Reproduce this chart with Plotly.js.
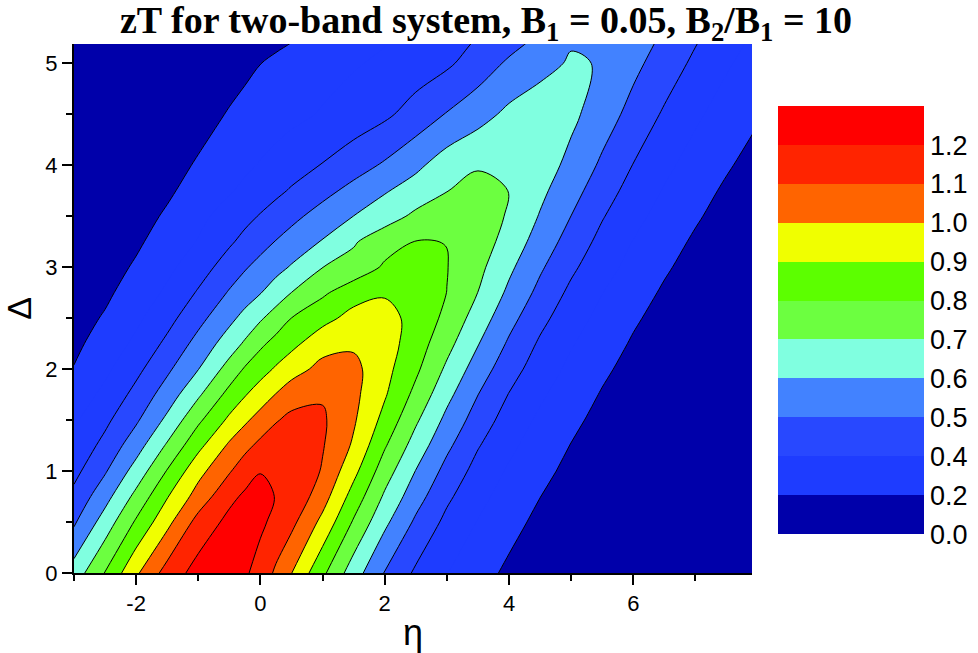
<!DOCTYPE html>
<html><head><meta charset="utf-8">
<script src="https://cdn.plot.ly/plotly-3.0.1.min.js"></script>
<style>html,body{margin:0;padding:0;background:#fff}</style>
</head><body>
<div id="chart" style="width:978px;height:653px"></div>
<script>
// reduced chemical potential (x) and band gap (y) grid
const eta = [-3,-2.5,-2,-1.5,-1,-0.5,-0.25,0,0.25,0.5,1,1.5,2,2.5,3,3.5,4,4.5,5,5.5,6,6.5,7,7.5,8];
const delta = [0,0.5,0.75,1,1.25,1.5,1.75,2,2.25,2.5,2.75,3,3.25,3.5,3.75,4,4.5,5,5.5];
// zT values, one row per delta value
const zT_d000 = [0.645,0.804,0.984,1.14,1.24,1.245,1.216,1.157,1.084,1.002,0.821,0.647,0.495,0.384,0.303,0.235,0.182,0.145,0.12,0.10,0.085,0.073,0.063,0.055,0.048];
const zT_d050 = [0.485,0.645,0.813,0.972,1.135,1.227,1.234,1.22,1.171,1.126,0.973,0.789,0.622,0.483,0.375,0.296,0.23,0.178,0.143,0.118,0.099,0.084,0.072,0.062,0.054];
const zT_d075 = [0.426,0.564,0.728,0.894,1.041,1.175,1.216,1.225,1.197,1.182,1.042,0.859,0.685,0.541,0.419,0.329,0.258,0.201,0.159,0.128,0.107,0.09,0.077,0.067,0.058];
const zT_d100 = [0.372,0.49,0.64,0.806,0.968,1.091,1.155,1.197,1.199,1.195,1.091,0.928,0.747,0.597,0.468,0.365,0.288,0.226,0.176,0.141,0.117,0.098,0.083,0.071,0.062];
const zT_d125 = [0.328,0.429,0.557,0.713,0.873,1.016,1.072,1.125,1.153,1.16,1.107,0.986,0.81,0.657,0.521,0.407,0.322,0.252,0.197,0.156,0.127,0.106,0.089,0.076,0.066];
const zT_d150 = [0.285,0.378,0.486,0.622,0.781,0.92,0.983,1.039,1.093,1.123,1.114,1.012,0.869,0.715,0.574,0.454,0.357,0.282,0.221,0.172,0.139,0.116,0.097,0.082,0.071];
const zT_d175 = [0.244,0.324,0.43,0.546,0.685,0.832,0.893,0.949,1.004,1.06,1.09,1.025,0.91,0.773,0.628,0.501,0.396,0.315,0.247,0.193,0.153,0.125,0.104,0.088,0.075];
const zT_d200 = [0.204,0.28,0.374,0.482,0.598,0.739,0.81,0.862,0.912,0.956,1.033,1.027,0.931,0.819,0.682,0.552,0.441,0.351,0.278,0.217,0.169,0.137,0.114,0.095,0.081];
const zT_d225 = [0.18,0.24,0.321,0.422,0.533,0.649,0.714,0.781,0.832,0.875,0.959,0.985,0.945,0.85,0.732,0.605,0.486,0.386,0.308,0.243,0.19,0.151,0.124,0.103,0.087];
const zT_d250 = [0.162,0.209,0.28,0.367,0.47,0.575,0.63,0.688,0.744,0.801,0.87,0.932,0.936,0.867,0.776,0.654,0.533,0.428,0.342,0.272,0.213,0.167,0.135,0.112,0.094];
const zT_d275 = [0.146,0.183,0.241,0.317,0.41,0.509,0.553,0.596,0.648,0.701,0.783,0.86,0.89,0.87,0.799,0.699,0.58,0.473,0.378,0.302,0.239,0.188,0.149,0.122,0.102];
const zT_d300 = [0.133,0.163,0.211,0.277,0.355,0.446,0.491,0.531,0.569,0.609,0.699,0.735,0.814,0.858,0.803,0.727,0.62,0.514,0.419,0.337,0.269,0.212,0.166,0.134,0.111];
const zT_d325 = [0.121,0.147,0.186,0.239,0.306,0.386,0.427,0.466,0.504,0.538,0.607,0.69,0.758,0.803,0.799,0.752,0.661,0.556,0.46,0.371,0.297,0.236,0.187,0.148,0.122];
const zT_d350 = [0.11,0.133,0.165,0.212,0.275,0.34,0.373,0.407,0.441,0.475,0.539,0.601,0.657,0.72,0.762,0.753,0.69,0.593,0.499,0.407,0.329,0.265,0.211,0.165,0.133];
const zT_d375 = [0.101,0.121,0.147,0.186,0.236,0.291,0.32,0.349,0.379,0.41,0.47,0.53,0.591,0.645,0.698,0.725,0.699,0.623,0.536,0.446,0.362,0.293,0.234,0.186,0.147];
const zT_d400 = [0.093,0.11,0.133,0.165,0.21,0.259,0.283,0.307,0.331,0.356,0.405,0.458,0.513,0.578,0.651,0.693,0.693,0.652,0.571,0.483,0.397,0.322,0.262,0.21,0.165];
const zT_d450 = [0.079,0.093,0.11,0.132,0.163,0.207,0.226,0.244,0.26,0.276,0.308,0.342,0.382,0.44,0.506,0.562,0.623,0.655,0.623,0.547,0.468,0.387,0.316,0.26,0.21];
const zT_d500 = [0.067,0.077,0.09,0.107,0.128,0.16,0.18,0.199,0.217,0.234,0.264,0.291,0.318,0.348,0.384,0.446,0.516,0.568,0.611,0.594,0.524,0.455,0.379,0.311,0.258];
const zT_d550 = [0.049,0.056,0.064,0.075,0.087,0.103,0.113,0.124,0.137,0.151,0.19,0.229,0.262,0.295,0.328,0.359,0.392,0.462,0.565,0.58,0.56,0.514,0.445,0.373,0.31];
const zT = [zT_d000,zT_d050,zT_d075,zT_d100,zT_d125,zT_d150,zT_d175,zT_d200,zT_d225,zT_d250,zT_d275,
            zT_d300,zT_d325,zT_d350,zT_d375,zT_d400,zT_d450,zT_d500,zT_d550];

// colour-bar labels (contour levels) and band colours
const levelLabels = ['0.0','0.2','0.4','0.5','0.6','0.7','0.8','0.9','1.0','1.1','1.2'];
const bandColors = ['#0000AA','#1E3CFF','#2848FF','#4282FF','#80FFE0','#6CFF40','#5CFF00','#F0FF00','#FF6400','#FF2400','#FF0000'];
const xTickVals = [-2,0,2,4,6];
const xTickText = ['-2','0','2','4','6'];

// contours are drawn on zT*10 so that level steps are whole numbers (2,3,...,13)
const zT10 = zT.map(r => r.map(v => v*10));
// fill colourscale: one band per 0.1 step above 0.2 (0.2-0.3 and 0.3-0.4 share one colour)
const fillBandColors = [bandColors[0], bandColors[1]].concat(bandColors.slice(1));
const fillScale = [];
fillBandColors.forEach((c,j,a)=>{ fillScale.push([j/a.length,c]); fillScale.push([(j+1)/a.length,c]); });
// colour-bar scale: 11 equal bands
const cbScale = [];
bandColors.forEach((c,j,a)=>{ cbScale.push([j/a.length,c]); cbScale.push([(j+1)/a.length,c]); });

const plotL = 74.3, plotR = 752.3, plotT = 44, plotB = 572.7;
const W = 978, H = 653;
const tickFont = {family:'Liberation Sans, Arial, sans-serif', size:22, color:'#000'};
const SM = 1;

const fillTrace = {
  type:'contour', x:eta, y:delta, z:zT10, autocontour:false, showscale:false,
  contours:{start:2, end:13, size:1, coloring:'fill', showlines:false},
  line:{width:0, smoothing:SM}, colorscale:fillScale, hoverinfo:'skip'
};
const lineTraceA = {
  type:'contour', x:eta, y:delta, z:zT10, autocontour:false, showscale:false,
  contours:{start:4, end:12, size:1, coloring:'none', showlines:true},
  line:{color:'#000', width:1, smoothing:SM}, hoverinfo:'skip'
};
const lineTraceB = {
  type:'contour', x:eta, y:delta, z:zT10, autocontour:false, showscale:false,
  contours:{start:2, end:2.5, size:1, coloring:'none', showlines:true},
  line:{color:'#000', width:1, smoothing:SM}, hoverinfo:'skip'
};
const cbTrace = {
  type:'scatter', mode:'markers', x:[-50], y:[-50], hoverinfo:'skip', showlegend:false,
  marker:{size:1, color:[0], cmin:0, cmax:levelLabels.length, colorscale:cbScale, showscale:true,
    colorbar:{
      x:(778-plotL)/(plotR-plotL), xanchor:'left', xpad:0, ypad:0,
      y:(plotB-320)/(plotB-plotT), yanchor:'middle',
      thickness:146, thicknessmode:'pixels', len:428, lenmode:'pixels',
      outlinewidth:0, ticks:'', tickmode:'array',
      tickvals:levelLabels.map((_,i)=>i), ticktext:levelLabels,
      tickfont:{family:'Liberation Sans, Arial, sans-serif', size:27, color:'#000'}
    }}
};

const layout = {
  width:W, height:H,
  margin:{l:plotL, r:W-plotR, t:plotT, b:H-plotB, pad:0},
  paper_bgcolor:'#fff', plot_bgcolor:'#fff',
  showlegend:false,
  title:{
    text:'<b>zT for two-band system, B<sub>1</sub> = 0.05, B<sub>2</sub>/B<sub>1</sub> = 10</b>',
    font:{family:'Liberation Serif, Times New Roman, serif', size:38, color:'#000'},
    x:486/W, xanchor:'center', y:1-6/H, yanchor:'top', xref:'container', yref:'container'
  },
  xaxis:{
    range:[-3,7.91], tickmode:'array', tickvals:xTickVals, ticktext:xTickText,
    ticks:'outside', ticklen:10, tickwidth:2, tickcolor:'#000',
    minor:{ticks:'outside', ticklen:6, tickwidth:2, tickcolor:'#000', tickmode:'linear', tick0:0, dtick:1, showgrid:false},
    showline:true, linecolor:'#000', linewidth:2, mirror:false,
    showgrid:false, zeroline:false, tickfont:tickFont,
    title:{text:'η', font:{family:'Liberation Sans, Arial, sans-serif', size:36, color:'#000'}, standoff:4}
  },
  yaxis:{
    range:[0,5.19], tickmode:'linear', tick0:0, dtick:1,
    ticks:'outside', ticklen:10, tickwidth:2, tickcolor:'#000',
    minor:{ticks:'outside', ticklen:6, tickwidth:2, tickcolor:'#000', tickmode:'linear', tick0:0, dtick:0.5, showgrid:false},
    showline:true, linecolor:'#000', linewidth:2, mirror:false,
    showgrid:false, zeroline:false, tickfont:tickFont,
    title:{text:'Δ', font:{family:'Liberation Sans, Arial, sans-serif', size:34, color:'#000'}, standoff:10}
  }
};

Plotly.newPlot('chart', [fillTrace, lineTraceA, lineTraceB, cbTrace], layout, {displayModeBar:false, staticPlot:true});
</script>
</body></html>
